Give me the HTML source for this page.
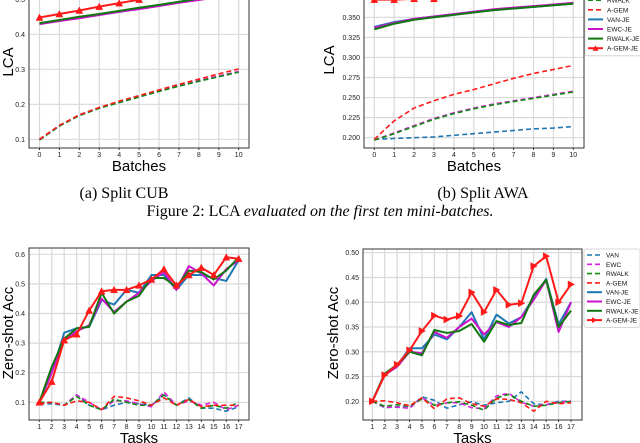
<!DOCTYPE html>
<html><head><meta charset="utf-8"><style>
body{margin:0;background:#fff;width:640px;height:443px;overflow:hidden;position:relative;font-family:"Liberation Sans",sans-serif}
svg{position:absolute;left:0;top:0}
</style></head><body>
<svg id="fig" width="640" height="443">
<defs>
<clipPath id="ca"><rect x="29" y="-20" width="220" height="168"/></clipPath>
<clipPath id="cb"><rect x="364" y="-20" width="220" height="168"/></clipPath>
<clipPath id="cc"><rect x="29" y="248" width="220" height="172"/></clipPath>
<clipPath id="cd"><rect x="363" y="249" width="219" height="171"/></clipPath>
</defs>
<text x="124" y="198" font-family="Liberation Serif,serif" font-size="16" text-anchor="middle">(a) Split CUB</text>
<text x="483" y="198" font-family="Liberation Serif,serif" font-size="16" text-anchor="middle">(b) Split AWA</text>
<text x="320" y="216" font-family="Liberation Serif,serif" font-size="16" text-anchor="middle">Figure 2: LCA <tspan font-style="italic">evaluated on the first ten mini-batches.</tspan></text>
</svg>
<script>
// ---- data ----
const batches=[0,1,2,3,4,5,6,7,8,9,10];
const tasks=[1,2,3,4,5,6,7,8,9,10,11,12,13,14,15,16,17];
const names=["VAN","EWC","RWALK","A-GEM","VAN-JE","EWC-JE","RWALK-JE","A-GEM-JE"];
const aTicks=[0.1,0.2,0.3,0.4,0.5];
const bTicks=[0.200,0.225,0.250,0.275,0.300,0.325,0.350,0.375];
const cTicks=[0.1,0.2,0.3,0.4,0.5,0.6];
const dTicks=[0.20,0.25,0.30,0.35,0.40,0.45,0.50];
// (a) Split CUB
const aVAN=[0.098,0.138,0.168,0.189,0.205,0.221,0.237,0.252,0.266,0.279,0.292];
const aEWC=[0.099,0.139,0.169,0.190,0.206,0.222,0.238,0.254,0.268,0.281,0.294];
const aRWALK=[0.098,0.138,0.168,0.189,0.205,0.221,0.237,0.252,0.266,0.279,0.292];
const aAGEM=[0.100,0.140,0.170,0.191,0.209,0.225,0.241,0.257,0.272,0.287,0.301];
const aVANJE=[0.431,0.439,0.448,0.457,0.465,0.474,0.483,0.491,0.500,0.509,0.517];
const aEWCJE=[0.429,0.438,0.446,0.455,0.464,0.472,0.481,0.490,0.498,0.507,0.515];
const aRWALKJE=[0.432,0.441,0.450,0.458,0.467,0.476,0.484,0.493,0.502,0.510,0.519];
const aAGEMJE=[0.448,0.458,0.468,0.479,0.489,0.499,0.510,0.520,0.530,0.540,0.550];
// (b) Split AWA
const bVAN=[0.198,0.199,0.200,0.201,0.203,0.205,0.207,0.209,0.211,0.212,0.214];
const bEWC=[0.197,0.206,0.215,0.224,0.231,0.237,0.242,0.246,0.250,0.254,0.258];
const bRWALK=[0.197,0.205,0.214,0.223,0.230,0.236,0.241,0.245,0.249,0.253,0.257];
const bAGEM=[0.198,0.221,0.237,0.246,0.254,0.260,0.267,0.274,0.280,0.285,0.290];
const bVANJE=[0.338,0.344,0.348,0.351,0.354,0.357,0.359,0.361,0.363,0.365,0.367];
const bEWCJE=[0.337,0.343,0.348,0.351,0.354,0.357,0.360,0.362,0.364,0.366,0.368];
const bRWALKJE=[0.335,0.342,0.347,0.350,0.353,0.356,0.359,0.361,0.363,0.365,0.367];
const bAGEMJE=[0.372,0.372,0.373,0.373,0.378,0.382,0.386,0.390,0.394,0.398,0.402];
// (c)
const cVAN=[0.095,0.095,0.09,0.125,0.09,0.075,0.09,0.1,0.095,0.09,0.125,0.09,0.115,0.08,0.08,0.07,0.085];
const cEWC=[0.095,0.1,0.09,0.125,0.1,0.075,0.105,0.105,0.095,0.085,0.135,0.09,0.105,0.09,0.1,0.075,0.09];
const cRWALK=[0.1,0.1,0.09,0.12,0.09,0.075,0.11,0.1,0.09,0.09,0.125,0.09,0.11,0.08,0.09,0.08,0.1];
const cAGEM=[0.095,0.1,0.09,0.105,0.1,0.075,0.12,0.115,0.105,0.09,0.115,0.09,0.11,0.085,0.09,0.09,0.09];
const cVANJE=[0.1,0.2,0.335,0.35,0.355,0.445,0.43,0.48,0.47,0.53,0.53,0.48,0.53,0.53,0.52,0.51,0.58];
const cEWCJE=[0.1,0.2,0.31,0.34,0.36,0.45,0.405,0.44,0.47,0.51,0.54,0.48,0.56,0.535,0.495,0.55,0.58];
const cRWALKJE=[0.1,0.22,0.315,0.35,0.355,0.47,0.4,0.44,0.46,0.52,0.52,0.49,0.545,0.54,0.515,0.545,0.59];
const cAGEMJE=[0.1,0.17,0.31,0.33,0.41,0.475,0.48,0.48,0.495,0.515,0.55,0.495,0.53,0.555,0.53,0.59,0.585];
// (d)
const dVAN=[0.2,0.187,0.189,0.187,0.209,0.202,0.186,0.193,0.199,0.192,0.197,0.2,0.219,0.195,0.193,0.2,0.2];
const dEWC=[0.2,0.188,0.188,0.186,0.207,0.192,0.197,0.197,0.187,0.185,0.211,0.216,0.198,0.19,0.193,0.198,0.201];
const dRWALK=[0.2,0.19,0.193,0.19,0.205,0.192,0.197,0.199,0.192,0.182,0.207,0.214,0.2,0.19,0.192,0.197,0.2];
const dAGEM=[0.2,0.201,0.197,0.191,0.207,0.185,0.205,0.207,0.195,0.19,0.205,0.204,0.197,0.18,0.2,0.195,0.197];
const dVANJE=[0.2,0.253,0.272,0.307,0.307,0.335,0.325,0.35,0.38,0.325,0.375,0.357,0.37,0.41,0.447,0.355,0.4];
const dEWCJE=[0.2,0.253,0.27,0.3,0.297,0.34,0.328,0.35,0.367,0.335,0.36,0.35,0.37,0.405,0.445,0.34,0.4];
const dRWALKJE=[0.2,0.256,0.274,0.3,0.293,0.344,0.338,0.342,0.356,0.32,0.362,0.354,0.358,0.415,0.445,0.35,0.383];
const dAGEMJE=[0.2,0.253,0.274,0.303,0.342,0.373,0.365,0.372,0.42,0.38,0.425,0.395,0.398,0.473,0.493,0.4,0.436];

const NS="http://www.w3.org/2000/svg";
const svg=document.getElementById('fig');
const colors=["#1f77b4","#dd22dd","#118811","#ff1a1a","#1f77b4","#cc11cc","#117711","#ff1a1a"];
function mk(tag,attrs,parent){const e=document.createElementNS(NS,tag);for(const k in attrs)e.setAttribute(k,attrs[k]);(parent||svg).appendChild(e);return e;}

function chart(id,cfg){
  const g=mk('g',{});
  
  
  const X=v=>cfg.x0+(v-cfg.xs[0])*(cfg.x1-cfg.x0)/(cfg.xs[cfg.xs.length-1]-cfg.xs[0]);
  const Y=v=>cfg.y0+(v-cfg.yv0)*(cfg.y1-cfg.y0)/(cfg.yv1-cfg.yv0);
  cfg.xs.forEach(v=>{mk('line',{x1:X(v),x2:X(v),y1:cfg.top,y2:cfg.bot,stroke:'#d9d9d9','stroke-width':1.2},g);});
  cfg.yt.forEach(v=>{const y=Y(v);if(y<cfg.top||y>cfg.bot)return;mk('line',{x1:cfg.left,x2:cfg.right,y1:y,y2:y,stroke:'#d9d9d9','stroke-width':1.2},g);
    const t=mk('text',{x:cfg.left-4,y:y+2.5,'font-size':7,'text-anchor':'end',fill:'#222'},g);t.textContent=cfg.fmt(v);
    
    });
  cfg.xs.forEach(v=>{const t=mk('text',{x:X(v),y:cfg.bot+9,'font-size':7,'text-anchor':'middle',fill:'#222'},g);t.textContent=v;
    
    
    mk('line',{x1:X(v),x2:X(v),y1:cfg.bot,y2:cfg.bot+2,stroke:'#333'},g);});
  const sg=mk('g',{'clip-path':'url(#'+cfg.clip+')'},g);
  cfg.series.forEach((s,i)=>{
    const pts=s.map((v,j)=>X(cfg.xs[j])+','+Y(v)).join(' ');
    const dashed=i<4;
    const p=mk('polyline',{points:pts,fill:'none',stroke:colors[i],'stroke-width':dashed?1.6:2,'stroke-dasharray':dashed?'5,3':'none','stroke-linejoin':'round'},sg);
    
    
    if(i==7){s.forEach((v,j)=>{const x=X(cfg.xs[j]),y=Y(v);
      const m=mk('polygon',{points:cfg.right_tri?`${x-3},${y-3.5} ${x+3.5},${y} ${x-3},${y+3.5}`:`${x},${y-3.5} ${x+3.5},${y+3} ${x-3.5},${y+3}`,fill:'#ff1a1a',stroke:'#ff1a1a','stroke-width':0.5},sg);
      
      });}
  });
  mk('rect',{x:cfg.left,y:cfg.top,width:cfg.right-cfg.left,height:cfg.bot-cfg.top,fill:'none',stroke:'#333','stroke-width':1},g);
  const xl=mk('text',{x:(cfg.left+cfg.right)/2,y:cfg.bot+23,'font-size':15,'text-anchor':'middle'},g);xl.textContent=cfg.xlabel;
  
  
  const yl=mk('text',{x:0,y:0,'font-size':15,'text-anchor':'middle',transform:`translate(${cfg.ylx},${cfg.yly}) rotate(-90)`},g);yl.textContent=cfg.ylabel;
  
  
  if(cfg.legend){const L=cfg.legend;
    const lg=mk('g',{},g);
    
    
    mk('rect',{x:L.x,y:L.y,width:L.w,height:L.step*8+4,fill:'#fff',stroke:'#ccc','stroke-width':0.8,rx:2},lg);
    names.forEach((n,i)=>{const y=L.y+6+i*L.step;
      const e=mk('g',{},lg);
      
      
      mk('line',{x1:L.x+3,x2:L.x+18,y1:y,y2:y,stroke:colors[i],'stroke-width':i<4?1.6:2,'stroke-dasharray':i<4?'5,3':'none'},e);
      if(i==7)mk('polygon',{points:cfg.right_tri?`${L.x+8},${y-3} ${L.x+13},${y} ${L.x+8},${y+3}`:`${L.x+10.5},${y-3} ${L.x+13.5},${y+2.5} ${L.x+7.5},${y+2.5}`,fill:'#ff1a1a'},e);
      const t=mk('text',{x:L.x+22,y:y+2.5,'font-size':6.5,fill:'#111'},e);t.textContent=n;});
  }
}
chart('lca-cub',{xs:batches,x0:39.5,x1:238.7,yv0:0.1,yv1:0.4,y0:139.3,y1:34.3,left:29,right:249,top:-10,bot:148,
  yt:aTicks,fmt:v=>v.toFixed(1),clip:'ca',series:[aVAN,aEWC,aRWALK,aAGEM,aVANJE,aEWCJE,aRWALKJE,aAGEMJE],
  xlabel:'Batches',ylabel:'LCA',ylx:13,yly:62});
chart('lca-awa',{xs:batches,x0:374.3,x1:573.3,yv0:0.2,yv1:0.35,y0:137.7,y1:17.3,left:364,right:584,top:-10,bot:148,
  yt:bTicks,fmt:v=>v.toFixed(3),clip:'cb',series:[bVAN,bEWC,bRWALK,bAGEM,bVANJE,bEWCJE,bRWALKJE,bAGEMJE],
  xlabel:'Batches',ylabel:'LCA',ylx:334,yly:60,legend:{x:585,y:-25,w:58,step:9.6}});
chart('zs-cub',{xs:tasks,x0:39.3,x1:238.7,yv0:0.1,yv1:0.6,y0:402.3,y1:254.3,left:29,right:249,top:248,bot:420,
  yt:cTicks,fmt:v=>v.toFixed(1),clip:'cc',series:[cVAN,cEWC,cRWALK,cAGEM,cVANJE,cEWCJE,cRWALKJE,cAGEMJE],
  xlabel:'Tasks',ylabel:'Zero-shot Acc',ylx:13,yly:333});
chart('zs-awa',{xs:tasks,x0:372.3,x1:571,yv0:0.2,yv1:0.5,y0:401.3,y1:252.7,left:363,right:582,top:249,bot:420,
  yt:dTicks,fmt:v=>v.toFixed(2),clip:'cd',series:[dVAN,dEWC,dRWALK,dAGEM,dVANJE,dEWCJE,dRWALKJE,dAGEMJE],
  xlabel:'Tasks',ylabel:'Zero-shot Acc',ylx:338,yly:333,right_tri:true,legend:{x:584,y:249,w:56,step:9.3}});
</script>
</body></html>
